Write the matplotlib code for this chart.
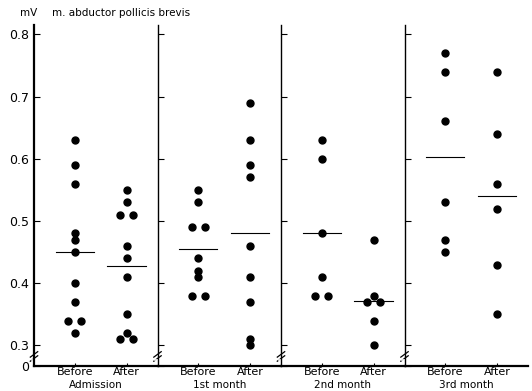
import matplotlib.pyplot as plt
import numpy as np

# amplitude values (mV), one list per column
groups = ["Admission", "1st month", "2nd month", "3rd month"]
before = [
    [0.63, 0.59, 0.56, 0.48, 0.47, 0.45, 0.40, 0.37, 0.34, 0.34, 0.32],
    [0.55, 0.53, 0.49, 0.49, 0.44, 0.42, 0.41, 0.38, 0.38],
    [0.63, 0.60, 0.48, 0.41, 0.38, 0.38],
    [0.77, 0.74, 0.66, 0.53, 0.47, 0.45],
]
after = [
    [0.55, 0.53, 0.51, 0.51, 0.46, 0.44, 0.41, 0.35, 0.32, 0.31, 0.31],
    [0.69, 0.63, 0.59, 0.57, 0.46, 0.41, 0.37, 0.31, 0.30],
    [0.47, 0.38, 0.37, 0.37, 0.34, 0.30],
    [0.74, 0.64, 0.56, 0.52, 0.43, 0.35],
]
yticks = [0.3, 0.4, 0.5, 0.6, 0.7, 0.8]
ybottom = 0.267   # drawn as "0" below the axis break

plt.rcParams['font.family'] = ['DejaVu Sans']

fig, axes = plt.subplots(1, 4, sharey=True, figsize=(5.32, 3.91), dpi=100)
fig.subplots_adjust(left=34/532, right=528/532, bottom=25/391, top=366/391, wspace=0)

xpos = [0.33, 0.75]
dx = 0.054

def dots(ax, x, vals):
    vals = np.array(vals)
    xs = np.full(len(vals), x, dtype=float)
    for v in np.unique(vals):
        idx = np.where(vals == v)[0]
        if len(idx) > 1:
            xs[idx] = x + (np.arange(len(idx)) - (len(idx) - 1) / 2) * 2 * dx
    ax.plot(xs, vals, 'o', color='black', markersize=5, clip_on=False)
    m = vals.mean()
    ax.plot([x - 0.155, x + 0.155], [m, m], color='black', lw=0.8)

for i, ax in enumerate(axes):
    dots(ax, xpos[0], before[i])
    dots(ax, xpos[1], after[i])
    ax.set_xlim(0, 1)
    ax.set_ylim(ybottom, 0.815)
    ax.spines['top'].set_visible(False)
    ax.spines['right'].set_visible(False)
    ax.spines['bottom'].set_linewidth(1.6)
    ax.spines['left'].set_linewidth(1.6 if i == 0 else 1.0)
    ax.set_xticks(xpos)
    ax.set_xticklabels(["Before", "After"], fontsize=8)
    ax.tick_params(axis='x', direction='in', length=2, pad=1)
    ax.tick_params(axis='y', direction='in', length=4, width=0.8)
    ax.annotate(groups[i], xy=(0.5, 0), xycoords='axes fraction',
                xytext=(0, -14), textcoords='offset points',
                ha='center', va='center', fontsize=7.5)
    # axis break marks on the y spine
    for off in (0.022, 0.034):
        ax.plot([-0.03, 0.03], [off - 0.008, off + 0.008], transform=ax.transAxes,
                color='black', lw=0.9, clip_on=False)
    ax.plot([-0.02, 0.02], [0.018, 0.018], transform=ax.transAxes,
            color='white', lw=1.2, clip_on=False)

axes[0].set_yticks([ybottom] + yticks)
axes[0].set_yticklabels(["0"] + ["%.1f" % t for t in yticks], fontsize=9)

fig.text(20/532, 1 - 16/391, "mV", fontsize=7.5)
fig.text(52/532, 1 - 16/391, "m. abductor pollicis brevis", fontsize=7.5)

fig.savefig("out.png", dpi=100)
